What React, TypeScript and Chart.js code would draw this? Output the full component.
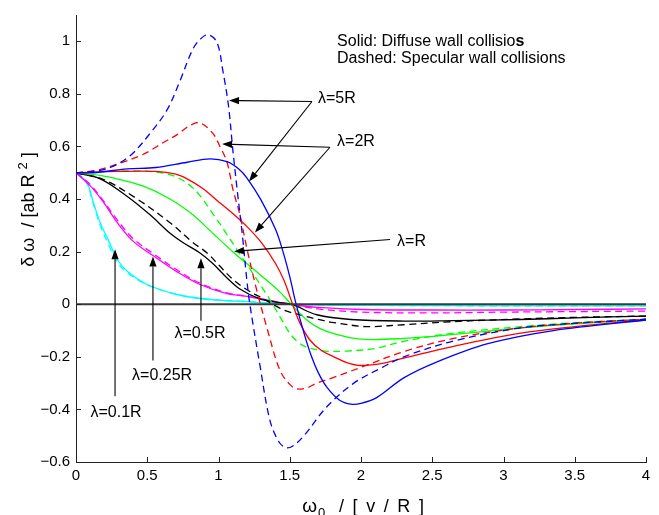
import React, { useEffect, useRef } from "react";
import { Chart, registerables } from "chart.js";
Chart.register(...registerables);

const xTicks = [0, 0.5, 1, 1.5, 2, 2.5, 3, 3.5, 4];
const yTicks = [-0.6, -0.4, -0.2, 0, 0.2, 0.4, 0.6, 0.8, 1];

// λ = 5R
const l5SpecX = [0, 0.12, 0.24, 0.38, 0.52, 0.64, 0.73, 0.82, 0.88, 0.93, 0.99, 1.03, 1.07, 1.1, 1.13, 1.17, 1.2, 1.22, 1.29, 1.36, 1.42, 1.47, 1.52, 1.6, 1.76, 1.95, 2.15, 2.3, 2.65, 3.12, 3.5, 4];
const l5SpecY = [0.5, 0.505, 0.52, 0.565, 0.65, 0.74, 0.85, 0.97, 1.012, 1.025, 0.995, 0.89, 0.755, 0.59, 0.44, 0.25, 0.086, 0.0, -0.23, -0.44, -0.52, -0.545, -0.54, -0.5, -0.39, -0.3, -0.24, -0.2, -0.14, -0.09, -0.073, -0.057];
const l5DiffX = [0, 0.12, 0.36, 0.56, 0.78, 0.94, 1.06, 1.14, 1.2, 1.3, 1.4, 1.45, 1.5, 1.54, 1.6, 1.65, 1.7, 1.76, 1.85, 1.93, 2.0, 2.11, 2.3, 2.53, 2.89, 3.35, 4];
const l5DiffY = [0.5, 0.5, 0.515, 0.52, 0.54, 0.553, 0.542, 0.515, 0.48, 0.395, 0.285, 0.205, 0.105, 0.01, -0.11, -0.195, -0.26, -0.315, -0.365, -0.38, -0.377, -0.355, -0.28, -0.22, -0.15, -0.1, -0.06];

// λ = 2R
const l2SpecX = [0, 0.15, 0.3, 0.45, 0.52, 0.61, 0.71, 0.8, 0.87, 0.96, 1.01, 1.06, 1.1, 1.15, 1.2, 1.27, 1.34, 1.43, 1.5, 1.55, 1.62, 1.69, 1.8, 2.0, 2.3, 2.65, 3.12, 3.5, 4];
const l2SpecY = [0.5, 0.51, 0.535, 0.565, 0.584, 0.614, 0.645, 0.68, 0.69, 0.65, 0.6, 0.54, 0.44, 0.34, 0.21, 0.05, -0.09, -0.25, -0.305, -0.322, -0.318, -0.3, -0.28, -0.24, -0.18, -0.13, -0.09, -0.072, -0.057];
const l2DiffX = [0, 0.3, 0.56, 0.7, 0.78, 0.89, 1.0, 1.1, 1.2, 1.3, 1.4, 1.46, 1.52, 1.57, 1.64, 1.72, 1.81, 1.9, 2.0, 2.15, 2.3, 2.65, 3.12, 3.5, 4];
const l2DiffY = [0.5, 0.505, 0.505, 0.495, 0.477, 0.44, 0.39, 0.345, 0.295, 0.235, 0.155, 0.09, 0.0, -0.07, -0.135, -0.175, -0.2, -0.222, -0.233, -0.225, -0.205, -0.16, -0.11, -0.085, -0.059];

// λ = R
const l1SpecX = [0, 0.2, 0.45, 0.6, 0.7, 0.78, 0.86, 0.96, 1.06, 1.15, 1.25, 1.34, 1.38, 1.45, 1.5, 1.56, 1.62, 1.75, 1.9, 2.1, 2.3, 2.65, 3.12, 3.5, 4];
const l1SpecY = [0.5, 0.505, 0.507, 0.5, 0.485, 0.46, 0.42, 0.345, 0.265, 0.19, 0.11, 0.035, 0.0, -0.065, -0.11, -0.145, -0.163, -0.178, -0.178, -0.168, -0.141, -0.11, -0.085, -0.07, -0.057];
const l1DiffX = [0, 0.17, 0.3, 0.47, 0.66, 0.82, 0.94, 1.1, 1.29, 1.43, 1.51, 1.62, 1.71, 1.81, 2.0, 2.3, 2.65, 3.12, 3.5, 4];
const l1DiffY = [0.5, 0.49, 0.475, 0.45, 0.4, 0.34, 0.28, 0.2, 0.113, 0.047, 0.0, -0.06, -0.092, -0.112, -0.133, -0.13, -0.115, -0.09, -0.075, -0.057];

// λ = 0.5R
const l05SpecX = [0, 0.19, 0.43, 0.66, 0.82, 0.92, 1.0, 1.1, 1.2, 1.3, 1.43, 1.5, 1.57, 1.7, 1.81, 2.0, 2.09, 2.3, 2.65, 3.12, 3.5, 4];
const l05SpecY = [0.5, 0.475, 0.4, 0.31, 0.235, 0.195, 0.15, 0.095, 0.055, 0.025, -0.015, -0.03, -0.04, -0.058, -0.07, -0.084, -0.085, -0.078, -0.066, -0.056, -0.05, -0.045];
const l05DiffX = [0, 0.17, 0.36, 0.52, 0.66, 0.75, 0.87, 0.96, 1.06, 1.15, 1.29, 1.4, 1.51, 1.69, 1.93, 2.3, 2.65, 3.12, 3.5, 4];
const l05DiffY = [0.5, 0.477, 0.41, 0.34, 0.27, 0.235, 0.195, 0.155, 0.1, 0.058, 0.02, 0.008, 0.0, -0.04, -0.058, -0.064, -0.062, -0.058, -0.052, -0.045];

// λ = 0.25R
const l025SpecX = [0, 0.1, 0.19, 0.29, 0.4, 0.54, 0.71, 0.87, 1.06, 1.2, 1.4, 1.5, 1.7, 2.0, 2.5, 3.0, 3.5, 4];
const l025SpecY = [0.5, 0.455, 0.395, 0.32, 0.25, 0.193, 0.13, 0.08, 0.043, 0.03, 0.01, 0.0, -0.018, -0.03, -0.033, -0.03, -0.028, -0.026];
const l025DiffX = [0, 0.1, 0.19, 0.29, 0.4, 0.54, 0.71, 0.87, 1.06, 1.2, 1.4, 1.5, 1.7, 2.0, 2.5, 3.0, 3.5, 4];
const l025DiffY = [0.5, 0.45, 0.39, 0.31, 0.24, 0.185, 0.123, 0.075, 0.04, 0.03, 0.01, 0.0, -0.012, -0.02, -0.022, -0.022, -0.02, -0.018];

// λ = 0.1R
const l01SpecX = [0, 0.04, 0.08, 0.12, 0.17, 0.23, 0.29, 0.36, 0.5, 0.71, 0.94, 1.2, 1.5, 2, 3, 4];
const l01SpecY = [0.5, 0.485, 0.455, 0.385, 0.3, 0.225, 0.16, 0.12, 0.074, 0.037, 0.018, 0.01, 0.0, -0.004, -0.006, -0.006];
const l01DiffX = [0, 0.04, 0.08, 0.12, 0.17, 0.23, 0.29, 0.36, 0.5, 0.71, 0.94, 1.2, 1.5, 2, 3, 4];
const l01DiffY = [0.5, 0.485, 0.46, 0.39, 0.31, 0.24, 0.17, 0.125, 0.075, 0.037, 0.018, 0.01, 0.0, -0.004, -0.006, -0.006];

const zeroX = [0, 4];
const zeroY = [0, 0];

// annotation anchors in data units
const arrowList = [
  { from: [1.656, 0.771], to: [1.074, 0.775] },
  { from: [1.656, 0.771], to: [1.214, 0.467] },
  { from: [1.782, 0.597], to: [1.025, 0.609] },
  { from: [1.782, 0.597], to: [1.256, 0.273] },
  { from: [2.204, 0.246], to: [1.109, 0.201] },
  { from: [0.877, -0.063], to: [0.877, 0.175] },
  { from: [0.54, -0.214], to: [0.54, 0.182] },
  { from: [0.274, -0.35], to: [0.274, 0.209] },
];
const labelList = [
  { text: "λ=5R", at: [1.698, 0.782], align: "left" },
  { text: "λ=2R", at: [1.832, 0.617], align: "left" },
  { text: "λ=R", at: [2.253, 0.239], align: "left" },
  { text: "λ=0.5R", at: [0.87, -0.113], align: "center" },
  { text: "λ=0.25R", at: [0.604, -0.272], align: "center" },
  { text: "λ=0.1R", at: [0.281, -0.411], align: "center" },
];
const noteLine1 = "Solid: Diffuse wall collisio";
const noteLine1Bold = "s";
const noteLine2 = "Dashed: Specular wall collisions";
const noteAt = [1.832, 0.983];
const noteAt2 = [1.832, 0.919];

const FONT = "'Liberation Sans', Arial, Helvetica, sans-serif";

function mk(xs: number[], ys: number[], color: string, dashed: boolean, width = 1.3) {
  return {
    data: xs.map((x, i) => ({ x, y: ys[i] })),
    borderColor: color,
    backgroundColor: color,
    borderWidth: width,
    borderDash: dashed ? [7, 4.5] : [],
    pointRadius: 0,
    fill: false,
    tension: 0.35,
  };
}

const fmt = (v: number) => {
  const s = String(Math.round(v * 10) / 10);
  return s.replace("-", "\u2212");
};

const decorPlugin = {
  id: "decor",
  afterDatasetsDraw(chart: any) {
    const ctx = chart.ctx as CanvasRenderingContext2D;
    const xs = chart.scales.x;
    const ys = chart.scales.y;
    const area = chart.chartArea;
    ctx.save();
    // inward tick marks
    ctx.strokeStyle = "#222";
    ctx.lineWidth = 1;
    ctx.beginPath();
    xTicks.forEach((v) => {
      const px = Math.round(xs.getPixelForValue(v)) + 0.5;
      ctx.moveTo(px, area.bottom);
      ctx.lineTo(px, area.bottom - 5);
    });
    yTicks.forEach((v) => {
      const py = Math.round(ys.getPixelForValue(v)) + 0.5;
      ctx.moveTo(area.left, py);
      ctx.lineTo(area.left + 5, py);
    });
    ctx.stroke();

    // arrows
    ctx.strokeStyle = "#000";
    ctx.fillStyle = "#000";
    ctx.lineWidth = 1.1;
    arrowList.forEach((a) => {
      const x1 = xs.getPixelForValue(a.from[0]);
      const y1 = ys.getPixelForValue(a.from[1]);
      const x2 = xs.getPixelForValue(a.to[0]);
      const y2 = ys.getPixelForValue(a.to[1]);
      const ang = Math.atan2(y2 - y1, x2 - x1);
      const L = 10;
      const W = 3.6;
      const bx = x2 - L * Math.cos(ang);
      const by = y2 - L * Math.sin(ang);
      ctx.beginPath();
      ctx.moveTo(x1, y1);
      ctx.lineTo(bx, by);
      ctx.stroke();
      ctx.beginPath();
      ctx.moveTo(x2, y2);
      ctx.lineTo(bx + W * Math.sin(ang), by - W * Math.cos(ang));
      ctx.lineTo(bx - W * Math.sin(ang), by + W * Math.cos(ang));
      ctx.closePath();
      ctx.fill();
    });

    // labels
    ctx.font = `16px ${FONT}`;
    ctx.textBaseline = "middle";
    labelList.forEach((l) => {
      ctx.textAlign = l.align as CanvasTextAlign;
      ctx.fillText(l.text, xs.getPixelForValue(l.at[0]), ys.getPixelForValue(l.at[1]));
    });

    // note
    ctx.textAlign = "left";
    ctx.textBaseline = "alphabetic";
    ctx.font = `16px ${FONT}`;
    const nx = xs.getPixelForValue(noteAt[0]);
    const ny1 = ys.getPixelForValue(noteAt[1]);
    const ny2 = ys.getPixelForValue(noteAt2[1]);
    ctx.fillText(noteLine1, nx, ny1);
    const w1 = ctx.measureText(noteLine1).width;
    ctx.font = `bold 16px ${FONT}`;
    ctx.fillText(noteLine1Bold, nx + w1, ny1);
    ctx.font = `16px ${FONT}`;
    ctx.fillText(noteLine2, nx, ny2);

    // x title
    const xc = (area.left + area.right) / 2;
    const p1 = "ω";
    const p2 = "0";
    const p3 = "  / [ v / R ]";
    (ctx as any).letterSpacing = "0px";
    ctx.font = `19px ${FONT}`;
    const w1x = ctx.measureText(p1).width;
    (ctx as any).letterSpacing = "1.8px";
    ctx.font = `18px ${FONT}`;
    const w3x = ctx.measureText(p3).width;
    (ctx as any).letterSpacing = "0px";
    ctx.font = `13px ${FONT}`;
    const w2x = ctx.measureText(p2).width + 1;
    const total = w1x + w2x + w3x;
    const sx = xc - total / 2 + 3;
    const base = 512;
    ctx.font = `19px ${FONT}`;
    ctx.fillText(p1, sx, base);
    ctx.font = `13px ${FONT}`;
    ctx.fillText(p2, sx + w1x + 1, base + 5);
    (ctx as any).letterSpacing = "1.8px";
    ctx.font = `18px ${FONT}`;
    ctx.fillText(p3, sx + w1x + w2x, base);
    (ctx as any).letterSpacing = "0px";

    // y title (rotated)
    ctx.save();
    ctx.translate(34, (area.top + area.bottom) / 2 - 29);
    ctx.rotate(-Math.PI / 2);
    const q1 = "δ ω  / [ab R ";
    const q2 = "2";
    const q3 = " ]";
    ctx.font = `18px ${FONT}`;
    const wq1 = ctx.measureText(q1).width;
    const wq3 = ctx.measureText(q3).width;
    ctx.font = `13px ${FONT}`;
    const wq2 = ctx.measureText(q2).width;
    const tq = wq1 + wq2 + wq3;
    const qx = -tq / 2;
    ctx.font = `18px ${FONT}`;
    ctx.fillText(q1, qx, 0);
    ctx.font = `13px ${FONT}`;
    ctx.fillText(q2, qx + wq1, -7);
    ctx.font = `18px ${FONT}`;
    ctx.fillText(q3, qx + wq1 + wq2, 0);
    ctx.restore();

    ctx.restore();
  },
};

export default function App() {
  const ref = useRef<HTMLCanvasElement>(null);
  useEffect(() => {
    document.body.style.margin = "0";
    const datasets = [
      mk(zeroX, zeroY, "#3a3a3a", false, 2),
      mk(l5SpecX, l5SpecY, "#0000ff", true),
      mk(l5DiffX, l5DiffY, "#0000ff", false),
      mk(l2SpecX, l2SpecY, "#ff0000", true),
      mk(l2DiffX, l2DiffY, "#ff0000", false),
      mk(l1SpecX, l1SpecY, "#00ff00", true),
      mk(l1DiffX, l1DiffY, "#00ff00", false),
      mk(l05SpecX, l05SpecY, "#000000", true),
      mk(l05DiffX, l05DiffY, "#000000", false),
      mk(l025SpecX, l025SpecY, "#ff00ff", true),
      mk(l025DiffX, l025DiffY, "#ff00ff", false),
      mk(l01SpecX, l01SpecY, "#00ffff", true),
      mk(l01DiffX, l01DiffY, "#00ffff", false),
    ];
    const chart = new Chart(ref.current as HTMLCanvasElement, {
      type: "line",
      data: { datasets: datasets as any },
      options: {
        animation: false,
        responsive: false,
        devicePixelRatio: 1,
        events: [],
        layout: { padding: { top: 12, right: 13, left: 0, bottom: 0 } },
        plugins: { legend: { display: false }, tooltip: { enabled: false }, title: { display: false } },
        scales: {
          x: {
            type: "linear",
            min: 0,
            max: 4,
            afterBuildTicks: (s: any) => { s.ticks = xTicks.map((v) => ({ value: v })); },
            afterFit: (s: any) => { s.height = 53; },
            grid: { display: true, drawOnChartArea: false, drawTicks: false },
            border: { display: true, color: "#222", width: 1 },
            ticks: {
              color: "#000",
              padding: 5,
              maxRotation: 0,
              autoSkip: false,
              font: { family: FONT, size: 15 },
              callback: (v: any) => fmt(Number(v)),
            },
          },
          y: {
            type: "linear",
            min: -0.6,
            max: 1.1,
            afterBuildTicks: (s: any) => { s.ticks = yTicks.map((v) => ({ value: v })); },
            afterFit: (s: any) => { s.width = 76; },
            grid: { display: true, drawOnChartArea: false, drawTicks: false },
            border: { display: true, color: "#222", width: 1 },
            ticks: {
              color: "#000",
              padding: 6,
              autoSkip: false,
              font: { family: FONT, size: 15 },
              callback: (v: any) => fmt(Number(v)),
            },
          },
        },
      },
      plugins: [decorPlugin],
    });
    return () => chart.destroy();
  }, []);
  return (
    <div style={{ position: "fixed", left: 0, top: 0, width: 659, height: 515, background: "#fff" }}>
      <canvas ref={ref} width={659} height={515} style={{ width: 659, height: 515, display: "block" }} />
    </div>
  );
}
